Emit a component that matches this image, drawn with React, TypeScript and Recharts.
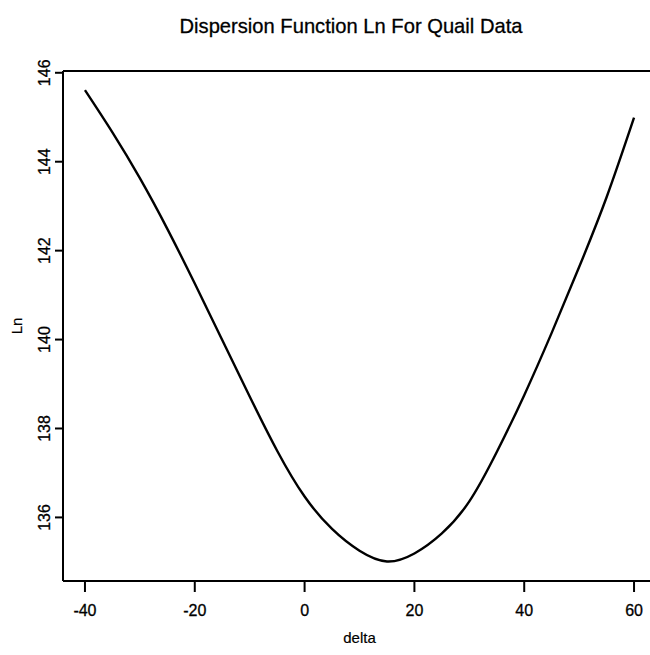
import React from "react";
import { LineChart, Line, XAxis, YAxis, ReferenceLine } from "recharts";

// dispersion function Ln, delta every 5 units
const deltaValues = [-40, -35, -30, -25, -20, -15, -10, -5, 0, 5, 10, 15, 20, 25, 30, 35, 40, 45, 50, 55, 60];
const lnValues = [
  145.61, 144.66, 143.63, 142.49, 141.26, 139.99, 138.72, 137.5, 136.47, 135.74, 135.25,
  135.01, 135.19, 135.64, 136.36, 137.47, 138.75, 140.15, 141.63, 143.2, 144.99,
];
const xTicks = [-40, -20, 0, 20, 40, 60];
const yTicks = [136, 138, 140, 142, 144, 146];

const chartTitle = "Dispersion Function Ln For Quail Data";
const xLabel = "delta";
const yLabel = "Ln";

const data = deltaValues.map((d, i) => ({ delta: d, ln: lnValues[i] }));

const FONT = "'Liberation Sans', Arial, Helvetica, sans-serif";

function YTick({ x, y, payload }: any) {
  return (
    <text
      x={x}
      y={y}
      transform={`rotate(-90 ${x} ${y})`}
      textAnchor="middle"
      fontFamily={FONT}
      fontSize={16}
      fill="#000"
      stroke="#000"
      strokeWidth={0.3}
    >
      {payload.value}
    </text>
  );
}

export default function App() {
  return (
    <div
      style={{
        position: "absolute",
        left: 0,
        top: 0,
        width: 650,
        height: 655,
        overflow: "hidden",
        background: "#fff",
      }}
    >
      <LineChart
        width={660}
        height={655}
        data={data}
        margin={{ top: 71, right: 4, bottom: 0, left: 0 }}
      >
        <text
          x={351}
          y={33}
          textAnchor="middle"
          fontFamily={FONT}
          fontSize={21}
          textLength={343}
          lengthAdjust="spacingAndGlyphs"
          fill="#000"
          stroke="#000"
          strokeWidth={0.3}
        >
          {chartTitle}
        </text>
        <XAxis
          dataKey="delta"
          type="number"
          domain={[-44, 64]}
          ticks={xTicks}
          height={74}
          tickSize={11}
          tickMargin={13}
          axisLine={{ stroke: "#000", strokeWidth: 2 }}
          tickLine={{ stroke: "#000", strokeWidth: 2 }}
          tick={{ fill: "#000", fontSize: 16, fontFamily: FONT, stroke: "#000", strokeWidth: 0.3 }}
          allowDataOverflow
          label={{
            content: ({ viewBox }: any) => (
              <text
                x={viewBox.x + viewBox.width / 2}
                y={viewBox.y + 62}
                textAnchor="middle"
                fontFamily={FONT}
                fontSize={15}
                fill="#000"
                stroke="#000"
                strokeWidth={0.2}
              >
                {xLabel}
              </text>
            ),
          }}
        />
        <YAxis
          type="number"
          domain={[134.57, 146.04]}
          ticks={yTicks}
          width={63}
          tickSize={8}
          tickMargin={5}
          axisLine={{ stroke: "#000", strokeWidth: 2 }}
          tickLine={{ stroke: "#000", strokeWidth: 2 }}
          tick={<YTick />}
          allowDataOverflow
          label={{
            content: ({ viewBox }: any) => {
              const lx = viewBox.x + 22;
              const ly = viewBox.y + viewBox.height / 2;
              return (
                <text
                  x={lx}
                  y={ly}
                  transform={`rotate(-90 ${lx} ${ly})`}
                  textAnchor="middle"
                  fontFamily={FONT}
                  fontSize={15}
                  fill="#000"
                  stroke="#000"
                  strokeWidth={0.2}
                >
                  {yLabel}
                </text>
              );
            },
          }}
        />
        <ReferenceLine y={146.04} stroke="#000" strokeWidth={2} ifOverflow="extendDomain" />
        <Line
          type="natural"
          dataKey="ln"
          stroke="#000"
          strokeWidth={2.4}
          dot={false}
          isAnimationActive={false}
        />
      </LineChart>
    </div>
  );
}
